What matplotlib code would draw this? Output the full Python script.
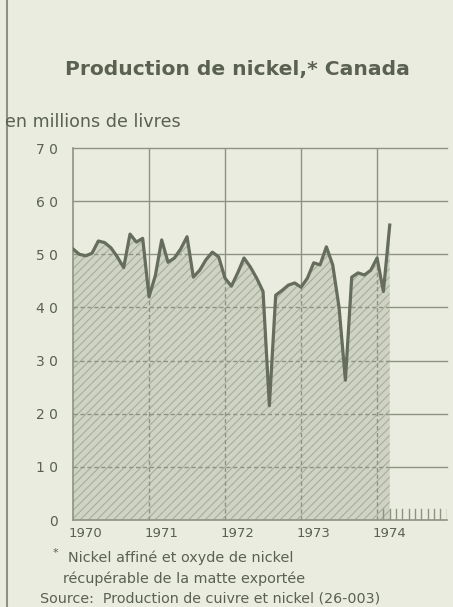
import numpy as np
import matplotlib
matplotlib.use("Agg")
import matplotlib.pyplot as plt
from matplotlib.lines import Line2D

# ---- data (millions of pounds, monthly Jan 1970 - Mar 1974) ----
start_year = 1970
values = [
    51.0, 50.0, 49.7, 50.2, 52.5, 52.2, 51.2, 49.5, 47.5, 53.8, 52.3, 53.0,   # 1970
    42.0, 46.0, 52.7, 48.5, 49.3, 51.0, 53.3, 45.7, 47.0, 49.0, 50.4, 49.5,   # 1971
    45.5, 44.0, 46.5, 49.3, 47.6, 45.5, 43.0, 21.5, 42.3, 43.2, 44.2, 44.6,   # 1972
    43.8, 45.5, 48.4, 48.0, 51.4, 48.0, 40.0, 26.3, 45.7, 46.5, 46.1, 47.0,   # 1973
    49.3, 43.0, 55.5,                                                         # 1974
]
year_labels = ["1970", "1971", "1972", "1973", "1974"]
y_ticks = [0, 10, 20, 30, 40, 50, 60, 70]
y_tick_labels = ["0", "1 0", "2 0", "3 0", "4 0", "5 0", "6 0", "7 0"]

title = "Production de nickel,* Canada"
unit_label = "en millions de livres"
note1 = "Nickel affiné et oxyde de nickel"
note2 = "récupérable de la matte exportée"
source = "Source:  Production de cuivre et nickel (26-003)"

# ---- style ----
paper = "#e9ecdf"
fill_col = "#cfd3c3"
hatch_col = "#a3a896"
line_col = "#666d5c"
grid_col = "#8e9381"
text_col = "#5a6150"

plt.rcParams["font.family"] = ["DejaVu Sans"]
plt.rcParams["hatch.linewidth"] = 0.7

fig = plt.figure(figsize=(4.53, 6.07), dpi=100, facecolor=paper)
ax = fig.add_axes([73 / 453, 1 - 520 / 607, (447 - 73) / 453, (520 - 148) / 607])
ax.set_facecolor(paper)

x = start_year + np.arange(len(values)) / 12.0
y = np.array(values)

ax.set_xlim(1970, 1974.92)
ax.set_ylim(0, 70)

# solid grid (visible above the fill)
for v in y_ticks[1:]:
    ax.axhline(v, color=grid_col, lw=1.0, zorder=1, clip_on=False)
years = np.arange(1971, 1975)
for yr in years:
    ax.axvline(yr, color=grid_col, lw=1.0, zorder=1)

# filled, hatched area under the curve
coll = ax.fill_between(x, 0, y, facecolor=fill_col, edgecolor=hatch_col,
                       hatch="////", linewidth=0, zorder=2)
clip_path = coll.get_paths()[0]

# dashed grid inside the fill
for v in y_ticks[1:]:
    ln = ax.axhline(v, color=grid_col, lw=1.0, ls=(0, (3, 2)), zorder=3)
    ln.set_clip_path(clip_path, ax.transData)
for yr in years:
    ln = ax.axvline(yr, color=grid_col, lw=1.0, ls=(0, (3, 2)), zorder=3)
    ln.set_clip_path(clip_path, ax.transData)

ax.plot(x, y, color=line_col, lw=2.3, zorder=4, solid_joinstyle="round")

# monthly tick marks for 1974
for m in range(1, 12):
    ax.plot([1974 + m / 12] * 2, [0, 2.1], color=grid_col, lw=1.0, zorder=3)

for s in ["top", "right"]:
    ax.spines[s].set_visible(False)
for s in ["left", "bottom"]:
    ax.spines[s].set_color(grid_col)
    ax.spines[s].set_linewidth(1.2)

ax.set_yticks(y_ticks)
ax.set_yticklabels(y_tick_labels)
ax.set_xticks([1970.16 + i for i in range(len(year_labels))])
ax.set_xticklabels(year_labels)
ax.tick_params(axis="both", length=0, colors=text_col, labelsize=9.5)
ax.tick_params(axis="y", pad=11, labelsize=10)
ax.tick_params(axis="x", pad=5)

# texts
fig.text(237 / 453, 1 - 70 / 607, title, ha="center", va="center",
         fontsize=14.6, fontweight="bold", color=text_col)
fig.text(5 / 453, 1 - 122 / 607, unit_label, ha="left", va="center",
         fontsize=12.6, color=text_col)
fig.text(53 / 453, 1 - 553 / 607, "*", ha="left", va="center",
         fontsize=8, color=text_col)
fig.text(68 / 453, 1 - 558 / 607, note1, ha="left", va="center",
         fontsize=10.4, color=text_col)
fig.text(63 / 453, 1 - 579 / 607, note2, ha="left", va="center",
         fontsize=10.4, color=text_col)
fig.text(40 / 453, 1 - 599 / 607, source, ha="left", va="center",
         fontsize=10.3, color=text_col)

# page frame line at the left
fig.add_artist(Line2D([7 / 453, 7 / 453], [0, 1], color=grid_col, lw=1.5,
                      transform=fig.transFigure))

fig.savefig("out.png", dpi=100, facecolor=paper)
